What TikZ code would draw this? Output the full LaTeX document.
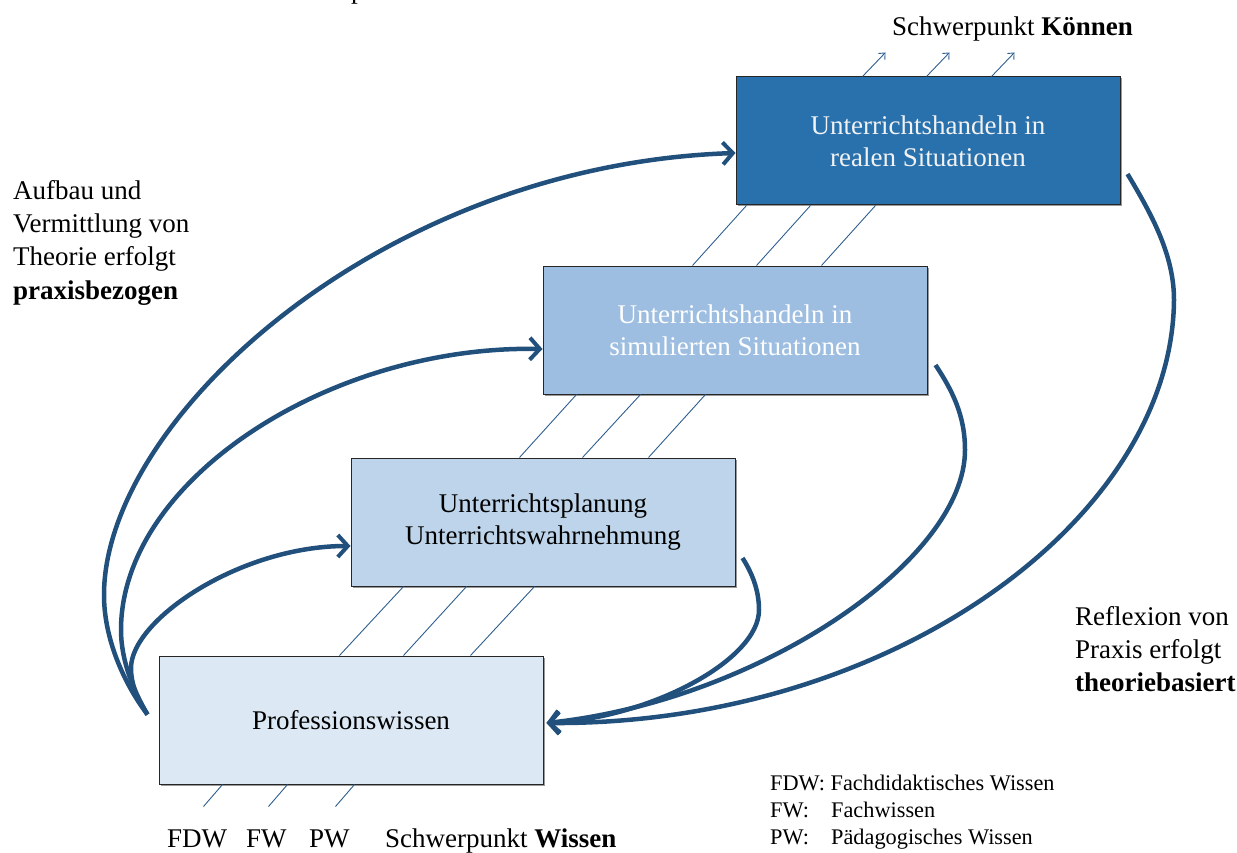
\documentclass[tikz,border=0pt]{standalone}
\usepackage{fontspec}
\setmainfont{Liberation Serif}
\usetikzlibrary{arrows.meta,calc,shadows}
\definecolor{boxA}{HTML}{2971AD}
\definecolor{boxB}{HTML}{9DBEE0}
\definecolor{boxC}{HTML}{BDD4EA}
\definecolor{boxD}{HTML}{DCE9F5}
\definecolor{arrowblue}{HTML}{21507C}
\definecolor{lineblue}{HTML}{2D5E8E}
\begin{document}
\begin{tikzpicture}[x=1pt,y=-1pt,
  stagebox/.style={draw=black!85, line width=1pt, minimum width=384pt, minimum height=128pt,
    inner sep=0pt, align=center, font=\fontsize{27}{32}\selectfont,
    drop shadow={shadow xshift=1.5pt, shadow yshift=-1.5pt, fill=black!50, opacity=0.8}},
  bigarrow/.style={draw=arrowblue, line width=4.5pt, line cap=butt,
    -{Straight Barb[length=10pt,width=22pt,line width=4pt]}},
  thinline/.style={draw=lineblue, line width=0.9pt},
  smallarrow/.style={thinline, -{Straight Barb[length=5pt,width=9pt,line width=0.9pt]}},
  lbl/.style={font=\fontsize{27}{33.3}\selectfont, inner sep=0pt, align=left},
  legend/.style={font=\fontsize{22.3}{27}\selectfont, inner sep=0pt, align=left}
]
\useasboundingbox (0,0) rectangle (1237,853);

% cut-off text fragment at the top edge
\node[lbl, anchor=base west] (frag) at (351,-1) {p};

% boxes
\node[stagebox, fill=boxA, text=white!95!black] (b1) at (928,141) {Unterrichtshandeln in\\realen Situationen};
\node[stagebox, fill=boxB, text=white] (b2) at (735,330) {Unterrichtshandeln in\\simulierten Situationen};
\node[stagebox, fill=boxC] (b3) at (543,522) {Unterrichtsplanung\\Unterrichtswahrnehmung};
\node[stagebox, fill=boxD] (b4) at (351,720) {Professionswissen};

% thin parallel lines between boxes
\foreach \a/\b in {181/53, 245/116, 312/184}
  \draw[thinline] ($(b4.north west)+(\a,0)$) -- ($(b3.south west)+(\b,0)$);
\foreach \a/\b in {169/34, 232/98, 298/163}
  \draw[thinline] ($(b3.north west)+(\a,0)$) -- ($(b2.south west)+(\b,0)$);
\foreach \a/\b in {150/11, 214/75, 279/140}
  \draw[thinline] ($(b2.north west)+(\a,0)$) -- ($(b1.south west)+(\b,0)$);
% small arrows above the top box
\foreach \a in {127, 191, 256}
  \draw[smallarrow] ($(b1.north west)+(\a,0)$) -- ($(b1.north west)+(\a+23,-24)$);
% short lines below the bottom box
\foreach \a in {64, 129, 196}
  \draw[thinline] ($(b4.south west)+(\a,0)$) -- ($(b4.south west)+(\a-19,22)$);

% connector end points
\coordinate (ls) at ($(b4.north west)+(-11,59)$);
\coordinate (t1) at ($(b1.west)+(0,12)$);
\coordinate (t2) at ($(b2.west)+(0,19)$);
\coordinate (t3) at ($(b3.west)+(0,24)$);
\coordinate (t4) at ($(b4.east)+(3,3)$);
\coordinate (s1) at ($(b1.east)+(7,33)$);
\coordinate (s2) at ($(b2.east)+(8,35)$);
\coordinate (s3) at ($(b3.east)+(7,36)$);

% left arrows (Professionswissen -> upper boxes)
\draw[bigarrow] (ls) .. controls (125,685) and (104,640) .. (104,595)
  .. controls (104,420) and (380,165) .. (t1);
\draw[bigarrow] (ls) .. controls (133,690) and (121,660) .. (121,630)
  .. controls (121,480) and (330,345) .. (t2);
\draw[bigarrow] (ls) .. controls (138,700) and (131,685) .. (131,668)
  .. controls (131,620) and (240,546) .. (t3);

% right arrows (upper boxes -> Professionswissen)
\draw[bigarrow] (s1) .. controls (1152,215) and (1174,255) .. (1174,300)
  .. controls (1172,520) and (890,725) .. (t4);
\draw[bigarrow] (s2) .. controls (952,390) and (965,415) .. (965,450)
  .. controls (965,560) and (760,700) .. (t4);
\draw[bigarrow] (s3) .. controls (752,573) and (759,590) .. (759,610)
  .. controls (759,660) and (650,718) .. (t4);

% labels
\node[lbl, anchor=base west] (koennen) at (892,36) {Schwerpunkt \textbf{Können}};
\node[lbl, anchor=north west] (ltext) at (13,180) {Aufbau und\\Vermittlung von\\Theorie erfolgt\\\textbf{praxisbezogen}};
\node[lbl, anchor=north west] (rtext) at (1075,606) {Reflexion von\\Praxis erfolgt\\\textbf{theoriebasiert}};
\node[lbl, anchor=base west] (fdw) at (167,847) {FDW};
\node[lbl, anchor=base west] (fw) at (246,847) {FW};
\node[lbl, anchor=base west] (pw) at (309,847) {PW};
\node[lbl, anchor=base west] (wissen) at (385,847) {Schwerpunkt \textbf{Wissen}};
\node[legend, anchor=north west] (leg) at (770,775) {FDW: Fachdidaktisches Wissen\\\makebox[61pt][l]{FW:}Fachwissen\\\makebox[61pt][l]{PW:}Pädagogisches Wissen};
\end{tikzpicture}
\end{document}
